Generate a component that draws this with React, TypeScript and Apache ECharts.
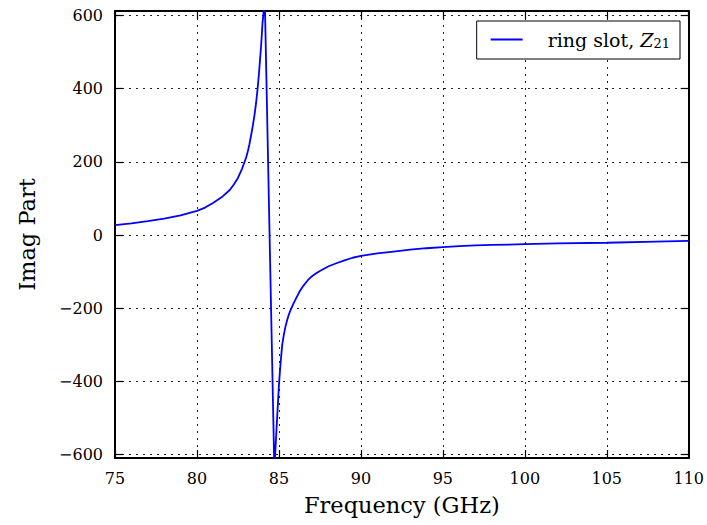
import React, { useEffect, useRef } from "react";
import * as echarts from "echarts";

const freqGHz: number[] = [
  75, 76, 77, 78, 79, 80, 80.5, 81, 81.5, 82, 82.25, 82.5, 82.75, 83, 83.1, 83.2, 83.3, 83.4,
  83.5, 83.6, 83.7, 83.78, 83.85, 83.92, 84.0, 84.14,
  84.72, 85.0, 85.1, 85.2, 85.3, 85.4, 85.5, 85.6, 85.7, 85.8, 85.9, 86.0, 86.25, 86.5, 86.75,
  87, 87.25, 87.5, 87.75, 88, 88.5, 89, 89.5, 90, 91, 92, 93, 94, 95,
  96, 97, 98, 100, 102, 105, 108, 110,
];
const imagPart: number[] = [
  27, 32, 38, 45, 54, 66, 75, 88, 103, 123, 138, 156, 181, 212, 228, 248, 272, 297,
  325, 358, 400, 440, 480, 522, 580, 640,
  -640, -410, -350, -300, -272, -250, -233, -218, -206, -196, -186, -177, -155, -138, -124,
  -113, -105, -98, -92, -86, -77, -69, -62, -57, -50, -45, -40, -36, -33,
  -30, -28, -27, -25, -23, -21, -18, -16,
];
const yTicks: number[] = [-600, -400, -200, 0, 200, 400, 600];
const xTickStep = 5;

const SERIF = "'DejaVu Serif', 'Liberation Serif', serif";

export default function App() {
  const ref = useRef<HTMLDivElement>(null);
  useEffect(() => {
    if (!ref.current) return;
    const chart = echarts.init(ref.current, undefined, { renderer: "svg" });
    const gridLine = { show: true, lineStyle: { color: "#222", width: 1, type: [2, 5] as number[] } };
    const axisLine = { show: true, onZero: false, lineStyle: { color: "#000", width: 2 } };
    const tick = { show: true, inside: true, length: 8, lineStyle: { color: "#000", width: 1.2 } };
    const fmtY = (v: number) => (v < 0 ? "\u2212" + Math.abs(v) : String(v));
    chart.setOption({
      animation: false,
      backgroundColor: "#fff",
      grid: { left: 115, right: 16, top: 11, bottom: 67, show: false },
      legend: {
        show: true,
        right: 27,
        top: 21,
        orient: "vertical",
        backgroundColor: "#fff",
        borderColor: "#000",
        borderWidth: 1,
        borderRadius: 0,
        padding: [9, 10, 9, 14],
        itemWidth: 32,
        itemHeight: 18,
        itemGap: 0,
        data: [{ name: "ring slot, Z21", icon: "path://M0,0 L10,0 L10,0.7 L0,0.7 Z" }],
        formatter: () => "ring slot, {i|Z}{s|21}",
        textStyle: {
          fontFamily: SERIF,
          fontSize: 19,
          color: "#000",
          padding: [0, 0, 0, 20],
          rich: {
            i: { fontFamily: SERIF, fontStyle: "italic", fontSize: 19, color: "#000" },
            s: { fontFamily: SERIF, fontSize: 13, color: "#000", verticalAlign: "bottom", padding: [8, 0, 0, 0] },
          },
        },
      },
      xAxis: [
        {
          type: "value",
          min: 75,
          max: 110,
          interval: xTickStep,
          position: "bottom",
          axisLine,
          axisTick: tick,
          splitLine: gridLine,
          axisLabel: { color: "#000", fontFamily: SERIF, fontSize: 16, margin: 12 },
          name: "Frequency (GHz)",
          nameLocation: "middle",
          nameGap: 35,
          nameTextStyle: { color: "#000", fontFamily: SERIF, fontSize: 22.5 },
        },
        {
          type: "value",
          min: 75,
          max: 110,
          interval: xTickStep,
          position: "top",
          axisLine,
          axisTick: tick,
          splitLine: { show: false },
          axisLabel: { show: false },
        },
      ],
      yAxis: [
        {
          type: "value",
          min: -609,
          max: 612,
          position: "left",
          axisLine,
          axisTick: { ...tick, customValues: yTicks },
          splitLine: gridLine,
          axisLabel: {
            color: "#000",
            fontFamily: SERIF,
            fontSize: 16,
            margin: 12,
            customValues: yTicks,
            formatter: fmtY,
          },
          name: "Imag Part",
          nameLocation: "middle",
          nameGap: 77,
          nameTextStyle: { color: "#000", fontFamily: SERIF, fontSize: 22.5 },
        },
        {
          type: "value",
          min: -609,
          max: 612,
          position: "right",
          axisLine,
          axisTick: { ...tick, customValues: yTicks },
          splitLine: { show: false },
          axisLabel: { show: false, customValues: yTicks },
        },
      ],
      series: [
        {
          name: "ring slot, Z21",
          type: "line",
          xAxisIndex: 0,
          yAxisIndex: 0,
          data: freqGHz.map((f, i) => [f, imagPart[i]]),
          symbol: "none",
          smooth: false,
          clip: true,
          lineStyle: { color: "#0000ff", width: 1.8 },
          itemStyle: { color: "#0000ff" },
        },
      ],
    });
    return () => chart.dispose();
  }, []);
  return (
    <div
      ref={ref}
      style={{ position: "absolute", left: 0, top: 0, width: 707, height: 525 }}
    />
  );
}
